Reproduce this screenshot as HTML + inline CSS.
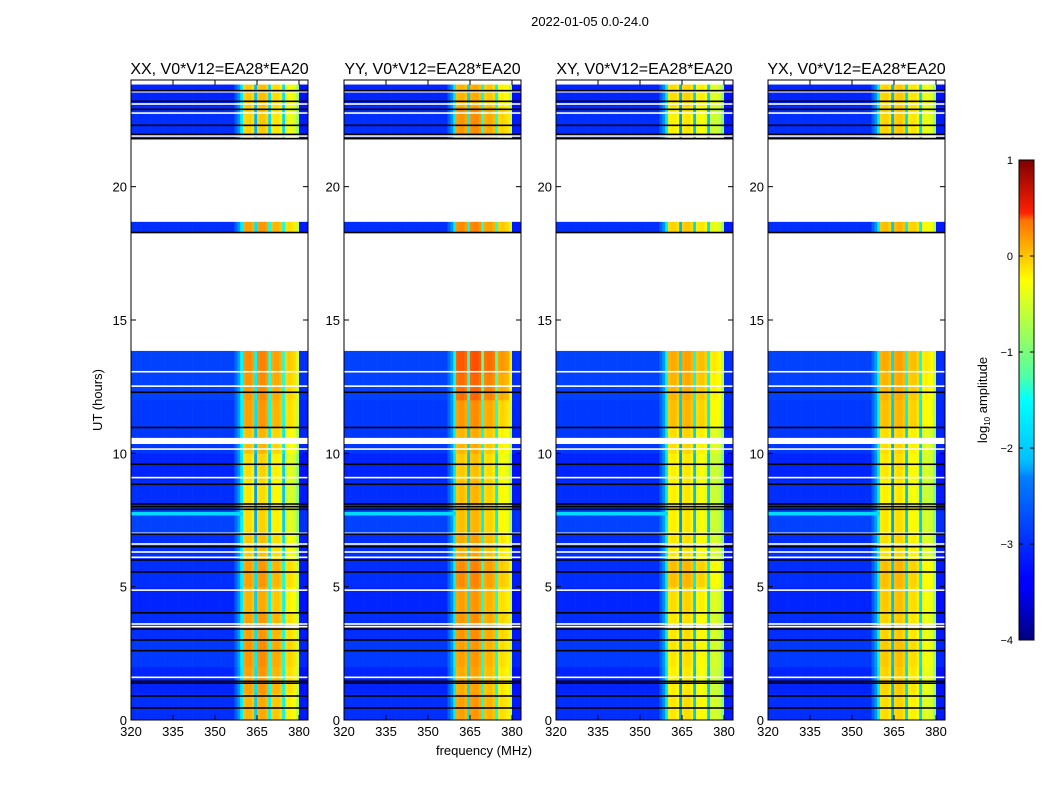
<!DOCTYPE html>
<html><head><meta charset="utf-8">
<style>
html,body{margin:0;padding:0;background:#fff;}
svg{display:block;font-family:"Liberation Sans",sans-serif;}
</style></head>
<body>
<svg id="fig" width="1050" height="800" viewBox="0 0 1050 800">
<defs>
<linearGradient id="jet" x1="0" y1="1" x2="0" y2="0">
<stop offset="0" stop-color="#00007f"/><stop offset="0.11" stop-color="#0000ff"/>
<stop offset="0.125" stop-color="#0000ff"/><stop offset="0.34" stop-color="#0080ff"/>
<stop offset="0.35" stop-color="#0099ff"/><stop offset="0.375" stop-color="#00c0ff"/>
<stop offset="0.5" stop-color="#00ffff" stop-opacity="1"/>
<stop offset="0.55" stop-color="#50ffa6"/><stop offset="0.65" stop-color="#a6ff50"/>
<stop offset="0.75" stop-color="#ffff00"/><stop offset="0.875" stop-color="#ff7000"/>
<stop offset="0.89" stop-color="#ff2000"/><stop offset="1" stop-color="#7f0000"/>
</linearGradient>
</defs>
<text x="590" y="26" font-size="13" text-anchor="middle">2022-01-05 0.0-24.0</text>
<g id="panels"></g>
<text x="484" y="755" font-size="13" text-anchor="middle">frequency (MHz)</text>
<text transform="translate(102,400) rotate(-90)" font-size="13" text-anchor="middle">UT (hours)</text>
<g id="cbar">
<rect x="1019" y="160" width="15" height="480" fill="url(#jet)" stroke="#000" stroke-width="1"/>
</g>
<text transform="translate(987,400) rotate(-90)" font-size="13" text-anchor="middle">log<tspan font-size="8" dy="3">10</tspan><tspan dy="-3"> amplitude</tspan></text>
</svg>
<script>
// ---- data ----
const panelTitles = ["XX, V0*V12=EA28*EA20","YY, V0*V12=EA28*EA20","XY, V0*V12=EA28*EA20","YX, V0*V12=EA28*EA20"];
const xTicks = [320,335,350,365,380];
const yTicks = [0,5,10,15,20];
const cbarTicks = [1,0,-1,-2,-3,-4];
const dataSegments = [[0,13.84],[18.28,18.68],[21.8,23.83]];
const whiteLines = [13.06,12.52,10.16,9.09,7.0,6.6,6.3,6.1,4.87,3.6,3.5,1.6,23.56,23.1,22.76,21.9];
const whiteBands = [[10.35,10.58]];
const cyanBands = [[7.67,7.8]];
const blackLines = [12.29,10.97,9.59,8.84,8.1,8.0,7.9,6.97,6.5,6.0,5.55,4.02,3.41,3.0,2.6,1.45,1.38,0.9,0.45,23.6,23.2,22.9,22.3,21.96,21.8,18.28];
// channel start frequencies (MHz), 1 MHz channels
const channels = [];
for (let f = 320; f < 384; f++) channels.push(f);
// band-shape offsets (relative to band level); null = background channel
const bandShape = {360:0.0,361:0.05,362:0.05,363:-0.05,364:-1.8,365:0.05,366:0.1,367:0.1,368:0.0,369:-1.6,370:-0.1,371:-0.05,372:-0.05,373:-0.15,374:-1.6,375:-0.3,376:-0.25,377:-0.3,378:-0.35,379:-0.7};
const bgProfileLeft = -3.15, bgProfileRight = -3.25;
const transition = {357:-2.9,358:-2.65,359:-2.2};
// band level (log10 amp) per hour 0..23, per panel
const bandXX = [-0.55,-0.45,-0.4,-0.45,-0.55,-0.45,-0.65,-0.75,-0.8,-0.75,-0.6,-0.45,-0.4,-0.35,-0.5,-0.5,-0.5,-0.5,-0.45,-0.5,-0.5,-0.6,-0.7,-0.65];
const bandYY = [-0.45,-0.5,-0.45,-0.4,-0.45,-0.35,-0.5,-0.6,-0.6,-0.65,-0.55,-0.4,-0.2,-0.1,-0.4,-0.4,-0.4,-0.4,-0.35,-0.5,-0.5,-0.45,-0.4,-0.55];
const bandXY = [-0.8,-0.85,-0.8,-0.8,-0.75,-0.6,-0.8,-0.85,-0.85,-0.85,-0.75,-0.6,-0.55,-0.5,-0.7,-0.7,-0.7,-0.7,-0.7,-0.8,-0.8,-0.8,-0.85,-0.75];
const bandYX = [-0.75,-0.7,-0.65,-0.7,-0.65,-0.6,-0.75,-0.8,-0.85,-0.8,-0.75,-0.6,-0.55,-0.5,-0.7,-0.7,-0.7,-0.7,-0.6,-0.8,-0.8,-0.75,-0.7,-0.7];
const bandLevels = [bandXX,bandYY,bandXY,bandYX];
// background level offset per hour 0..23
const bgHour = [-3.0,-3.05,-2.95,-3.0,-3.05,-3.0,-3.0,-2.9,-3.0,-3.05,-2.95,-2.95,-2.9,-2.9,-3,-3,-3,-3,-3.0,-3,-3,-3.0,-3.0,-3.05];

// ---- layout ----
const panelX = [131,344,556,768], panelW = 177, yTop = 80, yBot = 720;
const NS = "http://www.w3.org/2000/svg";
function el(tag, attrs, parent){const e=document.createElementNS(NS,tag);for(const k in attrs)e.setAttribute(k,attrs[k]);parent.appendChild(e);return e;}
function jet(v){
  let t=(v+4)/5; t=Math.max(0,Math.min(1,t));
  const c=x=>Math.round(255*Math.max(0,Math.min(1,x)));
  const r=c(Math.min(4*t-1.5,-4*t+4.5)), g=c(Math.min(4*t-0.5,-4*t+3.5)), b=c(Math.min(4*t+0.5,-4*t+2.5));
  return `rgb(${r},${g},${b})`;
}
const yScale = h => yBot - (h/24)*(yBot-yTop);
function xScaleFor(x0){return f => x0 + (f-320)*2.8;}
const root = document.getElementById('panels');

function channelValue(f, p, h){
  const hr = Math.min(23, Math.floor(h));
  if (bandShape[f] !== undefined) return bandLevels[p][hr] + bandShape[f];
  if (transition[f] !== undefined) return transition[f] + (bgHour[hr]+3)*0.5;
  return (f >= 380 ? bgProfileRight : bgProfileLeft) + (bgHour[hr]+3);
}

panelX.forEach((x0, p) => {
  const xs = xScaleFor(x0);
  const g = el('g', {}, root);
  
  
  const hm = el('g', {}, g);
  
  
  dataSegments.forEach(([s,e]) => {
    for (let h = Math.floor(s); h < e; h++) {
      const a = Math.max(s,h), b = Math.min(e,h+1);
      if (b <= a) continue;
      channels.forEach(f => {
        const x1 = xs(f), x2 = Math.min(xs(f+1), x0+panelW);
        if (x2 <= x1) return;
        const r = el('rect', {x:x1, y:yScale(b), width:x2-x1+0.3, height:yScale(a)-yScale(b)+0.3, fill:jet(channelValue(f,p,a))}, hm);
        
        
      });
    }
  });
  cyanBands.forEach(([a,b]) => {
    const r = el('rect', {x:x0, y:yScale(b), width:xs(360)-x0, height:yScale(a)-yScale(b), fill:jet(-2.3)}, g);
    
    
  });
  whiteBands.forEach(([a,b]) => {
    const r = el('rect', {x:x0, y:yScale(b), width:panelW, height:yScale(a)-yScale(b), fill:'#fff'}, g);
    
    
  });
  whiteLines.forEach(h => {
    const r = el('rect', {x:x0, y:yScale(h)-0.8, width:panelW, height:1.6, fill:'#fff'}, g);
    
    
  });
  blackLines.forEach(h => {
    const r = el('rect', {x:x0, y:yScale(h)-0.8, width:panelW, height:1.6, fill:'#000'}, g);
    
    
  });
  const fr = el('rect', {x:x0, y:yTop, width:panelW, height:yBot-yTop, fill:'none', stroke:'#000', 'stroke-width':1}, g);
  
  
  xTicks.forEach(t => {
    const x = xs(t);
    el('line', {x1:x, y1:yBot, x2:x, y2:yBot-5, stroke:'#000'}, g);
    el('line', {x1:x, y1:yTop, x2:x, y2:yTop+5, stroke:'#000'}, g);
    const tx = el('text', {x:x, y:yBot+16, 'font-size':13, 'text-anchor':'middle'}, g);
    tx.textContent = t;
    
    
  });
  yTicks.forEach(t => {
    const y = yScale(t);
    el('line', {x1:x0, y1:y, x2:x0+5, y2:y, stroke:'#000'}, g);
    el('line', {x1:x0+panelW, y1:y, x2:x0+panelW-5, y2:y, stroke:'#000'}, g);
    const tx = el('text', {x:x0-4, y:y+5, 'font-size':13, 'text-anchor':'end'}, g);
    tx.textContent = t;
    
    
  });
  const tt = el('text', {x:x0+panelW/2, y:74, 'font-size':16, 'text-anchor':'middle'}, g);
  tt.textContent = panelTitles[p];
  
  
});

const cb = document.getElementById('cbar');
cbarTicks.forEach(t => {
  const y = 160 + (1 - t) * 96;
  el('line', {x1:1019, y1:y, x2:1023, y2:y, stroke:'#000'}, cb);
  el('line', {x1:1034, y1:y, x2:1030, y2:y, stroke:'#000'}, cb);
  const tx = el('text', {x:1013, y:y+4, 'font-size':11, 'text-anchor':'end'}, cb);
  tx.textContent = t < 0 ? '\u2212' + (-t) : String(t);
  
  
});
</script>
</body></html>
